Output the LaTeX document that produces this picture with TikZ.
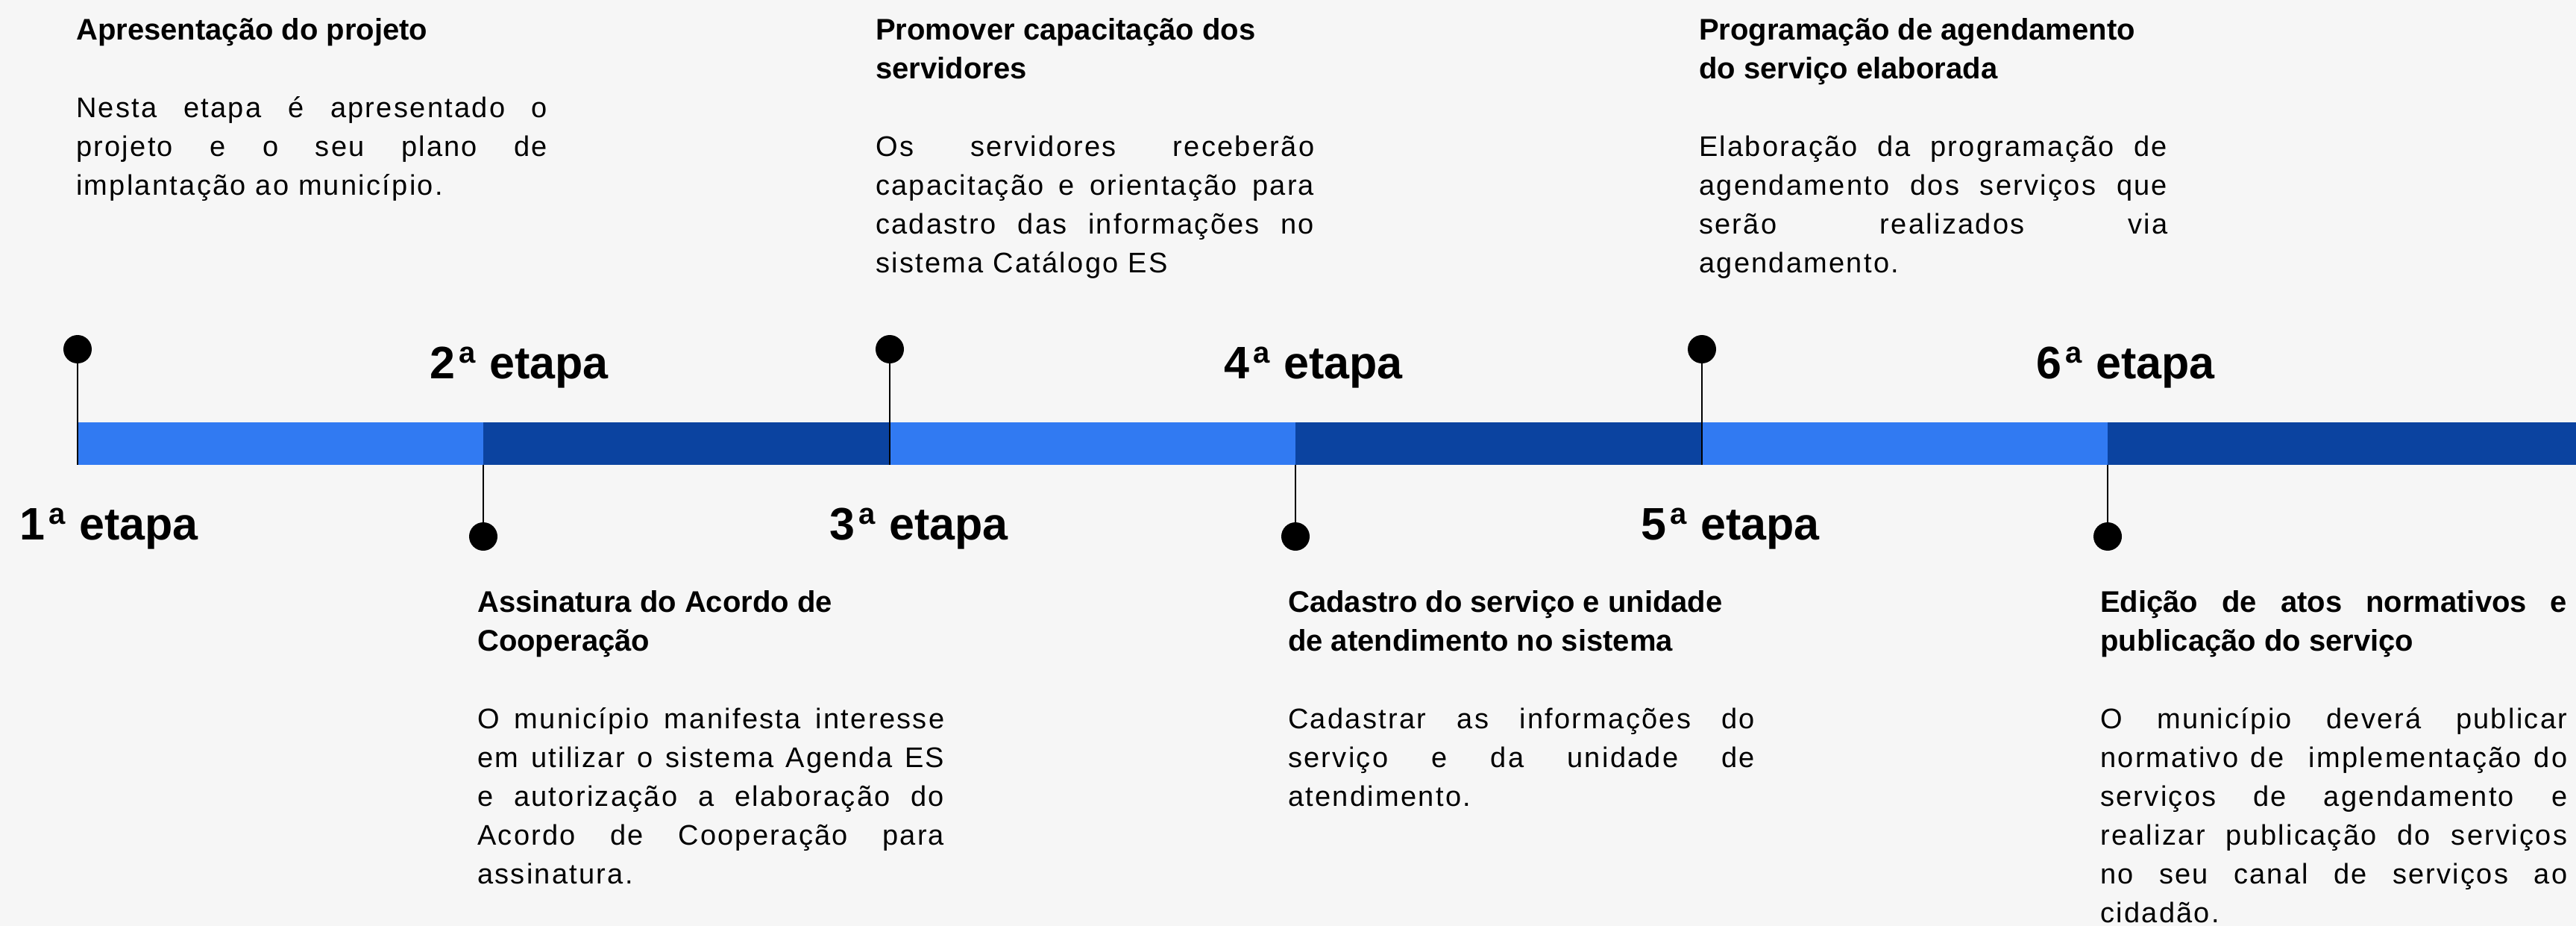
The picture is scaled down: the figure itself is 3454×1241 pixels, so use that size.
\documentclass[tikz,border=0pt]{standalone}
\usepackage{fontspec}
\setmainfont{Liberation Sans}
\newfontfamily\bodyfont[LetterSpace=6]{Liberation Sans}
\usetikzlibrary{positioning}

\definecolor{pagebg}{HTML}{F6F6F6}
\definecolor{barlight}{HTML}{317AF2}
\definecolor{bardark}{HTML}{0B43A0}

\tolerance=10000
\hyphenpenalty=10000
\parindent=0pt
\parskip=0pt

\newcommand{\etapa}[1]{#1\hspace{5pt}\raisebox{21pt}{\fontsize{40}{40}\selectfont a}\hspace{2pt} etapa}
\newcommand{\blocktitle}[1]{{\bfseries\fontsize{40}{52}\selectfont\strut#1\par}\vspace{52pt}}
\newcommand{\blockbody}[1]{{\bodyfont\fontsize{38}{52}\selectfont#1\par}}

\begin{document}
\begin{tikzpicture}[
    x=1pt,
    y=-1pt,
    node distance=1089pt,
    on grid,
    dot/.style={circle, fill=black, minimum size=38pt, inner sep=0pt},
    stem/.style={line width=2.5pt},
    stage/.style={font=\bfseries\fontsize{61}{61}\selectfont, inner sep=0pt, anchor=base west},
    block/.style={text width=#1, align=justify, inner sep=0pt, anchor=north west},
    block/.default=626pt,
]

    % page
    \fill[pagebg] (0,0) rectangle (3454,1241);
    \useasboundingbox (0,0) rectangle (3454,1241);

    % pins above and below the bar
    \node[dot]                (d1) at (104,468) {};
    \node[dot, right =of d1]  (d3) {};
    \node[dot, right =of d3]  (d5) {};
    \node[dot]                (d2) at (648,719) {};
    \node[dot, right =of d2]  (d4) {};
    \node[dot, right =of d4]  (d6) {};

    \coordinate (b1) at (d1 |- 0,623);
    \coordinate (b2) at (d2 |- 0,566);
    \coordinate (b3) at (d3 |- 0,623);
    \coordinate (b4) at (d4 |- 0,566);
    \coordinate (b5) at (d5 |- 0,623);
    \coordinate (b6) at (d6 |- 0,566);
    \coordinate (end) at (3454,623);

    % the bar
    \fill[barlight] (d1 |- 0,566) rectangle (b2 |- 0,623);
    \fill[bardark]  (b2)          rectangle (b3);
    \fill[barlight] (b3 |- 0,566) rectangle (b4 |- 0,623);
    \fill[bardark]  (b4)          rectangle (b5);
    \fill[barlight] (b5 |- 0,566) rectangle (b6 |- 0,623);
    \fill[bardark]  (b6)          rectangle (end);

    \draw[stem] (d1) -- (b1);
    \draw[stem] (d3) -- (b3);
    \draw[stem] (d5) -- (b5);
    \draw[stem] (d2) -- (b2 |- 0,623);
    \draw[stem] (d4) -- (b4 |- 0,623);
    \draw[stem] (d6) -- (b6 |- 0,623);

    % stage labels
    \node[stage] (s1) at (26,723)   {\etapa{1}};
    \node[stage] (s2) at (576,507)  {\etapa{2}};
    \node[stage] (s3) at (1112,723) {\etapa{3}};
    \node[stage] (s4) at (1641,507) {\etapa{4}};
    \node[stage] (s5) at (2200,723) {\etapa{5}};
    \node[stage] (s6) at (2730,507) {\etapa{6}};

    % texts above
    \node[block=632pt] (t1) at (102,16.6) {%
        \blocktitle{Apresentação do projeto}%
        \blockbody{Nesta etapa é apresentado o\linebreak projeto e o seu plano de\linebreak implantação ao município.}};
    \node[block=588pt] (t3) at (1174,16.6) {%
        \blocktitle{Promover capacitação dos\newline servidores}%
        \blockbody{Os servidores receberão\linebreak capacitação e orientação para\linebreak cadastro das informações no\linebreak sistema Catálogo ES}};
    \node[block=628pt] (t5) at (2278,16.6) {%
        \blocktitle{Programação de agendamento\newline do serviço elaborada}%
        \blockbody{Elaboração da programação de\linebreak agendamento dos serviços que\linebreak serão realizados via\linebreak agendamento.}};

    % texts below
    \node[block] (t2) at (640,783.6) {%
        \blocktitle{Assinatura do Acordo de\newline Cooperação}%
        \blockbody{O município manifesta interesse\linebreak em utilizar o sistema Agenda ES\linebreak e autorização a elaboração do\linebreak Acordo de Cooperação para\linebreak assinatura.}};
    \node[block] (t4) at (1727,783.6) {%
        \blocktitle{Cadastro do serviço e unidade\newline de atendimento no sistema}%
        \blockbody{Cadastrar as informações do\linebreak serviço e da unidade de\linebreak atendimento.}};
    \node[block] (t6) at (2816,783.6) {%
        \blocktitle{Edição de atos normativos e\linebreak publicação do serviço}%
        \blockbody{O município deverá publicar\linebreak normativo de\ \ implementação do\linebreak serviços de agendamento e\linebreak realizar publicação do serviços\linebreak no seu canal de serviços ao\linebreak cidadão.}};
\end{tikzpicture}
\end{document}
